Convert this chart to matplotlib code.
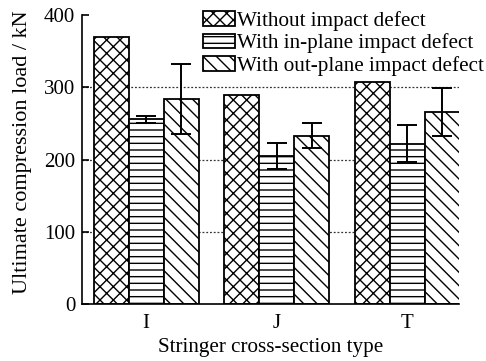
import numpy as np
import matplotlib
matplotlib.use("Agg")
import matplotlib.pyplot as plt

# data
sections = ['I', 'J', 'T']
series_names = ['Without impact defect',
                'With in-plane impact defect',
                'With out-plane impact defect']
without_defect = [370, 289, 308]
in_plane = [256, 205, 222]
in_plane_err = [5, 18, 26]
out_plane = [284, 233, 266]
out_plane_err = [49, 17, 33]

hatches = ['xxx', '---', '\\\\\\']

# dpi 120 gives hatch spacing close to the original; S converts sizes
# that were tuned for 100 dpi
DPI = 120
S = 100.0 / DPI

plt.rcParams['font.family'] = ['Liberation Serif', 'DejaVu Serif']
plt.rcParams['hatch.linewidth'] = 1.0 * S

fig = plt.figure(figsize=(486 / DPI, 361 / DPI), dpi=DPI)
ax = fig.add_axes([0.169, 0.158, 0.776, 0.800])

x = np.arange(len(sections))
w = 0.268

values = [without_defect, in_plane, out_plane]
errors = [None, in_plane_err, out_plane_err]
for i in range(3):
    ax.bar(x + (i - 1) * w, values[i], w, color='white', edgecolor='black',
           linewidth=1.3 * S, hatch=hatches[i], label=series_names[i], zorder=2)
    if errors[i] is not None:
        ax.errorbar(x + (i - 1) * w, values[i], yerr=errors[i], fmt='none',
                    ecolor='black', elinewidth=1.4 * S, capsize=7 * S,
                    capthick=1.4 * S, zorder=3)

for yv in [100, 200, 300]:
    ax.axhline(yv, color='#333333', linestyle=(0, (1.5, 1.5)), linewidth=0.9 * S,
               zorder=1)

ax.set_xlim(-0.49, 2.40)
ax.set_ylim(0, 400)
ax.set_yticks([0, 100, 200, 300, 400])
ax.set_xticks(x)
ax.set_xticklabels(sections)
ax.tick_params(direction='in', labelsize=15 * S, length=5 * S, width=1.2 * S)
ax.tick_params(axis='y', pad=5 * S)
ax.tick_params(axis='x', pad=7 * S)
for s in ['top', 'right']:
    ax.spines[s].set_visible(False)
for s in ['left', 'bottom']:
    ax.spines[s].set_linewidth(1.2 * S)

ax.set_ylabel('Ultimate compression load / kN', fontsize=16.0 * S)
ax.yaxis.set_label_coords(-0.133, 0.526)
ax.set_xlabel('Stringer cross-section type', fontsize=15.2 * S,
              labelpad=4 * S)

leg = fig.legend(loc='upper left', bbox_to_anchor=(203 / 486, 1 - 11 / 361),
                 frameon=False, fontsize=15.2 * S, handlelength=1.5,
                 handleheight=0.67, handletextpad=0.12, labelspacing=0.12,
                 borderaxespad=0, borderpad=0)

fig.savefig('out.png', dpi=DPI)
